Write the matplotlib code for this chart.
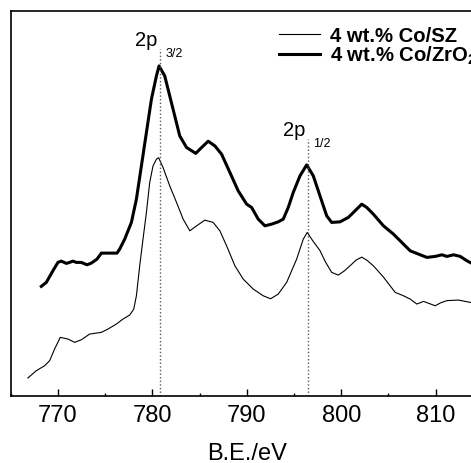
import numpy as np
import matplotlib
matplotlib.use("Agg")
import matplotlib.pyplot as plt
from matplotlib.ticker import MultipleLocator

plt.rcParams['font.family'] = ['Liberation Sans', 'DejaVu Sans']
plt.rcParams['mathtext.default'] = 'regular'

# Co 2p XPS spectra (x in eV, y in arbitrary intensity)
be_zro2 = [768.24, 768.77, 769.47, 770.00, 770.36, 770.89, 771.24, 771.59, 771.95, 772.48,
           773.08, 773.54, 774.14, 774.60, 775.48, 776.26, 776.54, 777.07, 777.78, 778.31,
           778.84, 779.37, 779.90, 780.43, 780.71, 781.31, 781.84, 782.37, 782.90, 783.62,
           784.60, 785.03, 785.91, 786.62, 787.33, 788.21, 789.09, 789.98, 790.51, 791.21,
           791.92, 792.63, 793.33, 793.86, 794.39, 794.92, 795.63, 796.34, 797.04, 797.75,
           798.46, 798.99, 799.87, 800.75, 801.46, 802.17, 802.70, 803.40, 804.47, 805.53,
           806.24, 807.30, 808.18, 809.07, 809.95, 810.66, 811.19, 811.89, 812.60, 813.31,
           813.77, 815.00]
int_zro2 = [109.4, 113.4, 125.0, 133.4, 134.7, 132.4, 133.4, 134.7, 133.4, 133.4,
            131.0, 132.7, 136.7, 142.7, 142.7, 142.7, 146.7, 156.7, 173.4, 196.7,
            230.0, 263.4, 296.7, 320.0, 330.0, 320.0, 300.0, 280.0, 260.0, 248.4,
            242.5, 246.7, 254.7, 250.0, 241.7, 223.4, 205.0, 191.7, 188.4, 176.7,
            170.0, 171.7, 174.0, 176.7, 188.4, 203.4, 220.0, 231.0, 220.0, 200.0,
            180.0, 173.4, 174.0, 178.4, 185.0, 191.7, 188.4, 181.7, 170.0, 161.7,
            155.0, 145.0, 141.7, 138.4, 139.4, 141.0, 139.4, 141.0, 139.4, 135.0,
            132.7, 129.0]

be_sz = [766.82, 767.71, 768.59, 769.12, 769.65, 770.25, 771.06, 771.77, 772.48, 773.36,
         774.60, 775.30, 776.19, 776.89, 777.60, 778.03, 778.31, 778.66, 779.01, 779.37,
         779.72, 780.07, 780.43, 780.66, 781.13, 781.84, 782.56, 783.26, 783.97, 784.68,
         785.56, 786.44, 787.15, 787.86, 788.74, 789.62, 790.68, 791.74, 792.52, 793.33,
         794.22, 795.28, 795.98, 796.40, 797.01, 797.75, 798.28, 798.99, 799.69, 800.30,
         800.93, 801.57, 802.17, 802.70, 803.40, 804.47, 805.71, 806.59, 807.30, 808.01,
         808.71, 809.95, 810.58, 811.22, 812.42, 813.66, 814.93]
int_sz = [17.7, 25.0, 30.0, 35.0, 46.7, 58.4, 56.7, 53.4, 56.0, 61.7,
          63.4, 66.7, 71.7, 76.7, 80.7, 86.7, 100.0, 130.0, 156.7, 183.4,
          213.4, 230.0, 236.7, 238.2, 228.4, 210.0, 193.4, 176.7, 165.0, 170.0,
          175.7, 173.4, 165.0, 150.0, 130.0, 116.7, 106.7, 100.0, 97.0, 101.7,
          113.4, 136.7, 156.7, 163.4, 154.7, 145.2, 134.7, 123.4, 120.7, 124.7,
          130.0, 135.7, 138.7, 135.7, 130.0, 118.7, 103.4, 100.0, 96.7, 91.7,
          94.4, 90.0, 93.2, 95.2, 95.7, 93.4, 92.7]

peak_pos = [780.8, 796.45]
peak_top = [346.7, 256.7]
peak_main = ["2p", "2p"]
peak_sub = ["3/2", "1/2"]
label_sz = "4 wt.% Co/SZ"
label_zro2 = "4 wt.% Co/ZrO$_2$"

fig = plt.figure(figsize=(4.71, 4.64), dpi=100)
ax = fig.add_axes([10.7 / 471, 1 - 396.7 / 464, 472.2 / 471, 384.7 / 464])

ax.plot(be_sz, int_sz, color='black', lw=0.8, label=label_sz)
ax.plot(be_zro2, int_zro2, color='black', lw=2.2, label=label_zro2)

for x, top, m, s in zip(peak_pos, peak_top, peak_main, peak_sub):
    ax.plot([x, x], [0, top], color='0.35', lw=1.0, linestyle=(0, (1, 1.6)))
    ax.text(x - 0.3, top + 4.3, m, fontsize=14.5, ha='right', va='baseline')
    ax.text(x + 0.6, top - 7.0, s, fontsize=9, ha='left', va='baseline')

ax.set_xlim(765, 815)
ax.set_ylim(0, 385)
ax.xaxis.set_major_locator(MultipleLocator(10))
ax.xaxis.set_minor_locator(MultipleLocator(5))
ax.tick_params(axis='x', which='major', direction='in', length=5, width=1.0,
               labelsize=17, pad=6)
ax.tick_params(axis='x', which='minor', direction='in', length=2.5, width=1.0)
ax.set_yticks([])
for sp in ax.spines.values():
    sp.set_linewidth(1.2)
ax.set_xlabel("B.E./eV", fontsize=17, labelpad=11.5)

ax.legend(loc='upper left', bbox_to_anchor=(279 / 471, 1 - 27 / 464),
          bbox_transform=fig.transFigure, frameon=False, borderpad=0,
          borderaxespad=0, labelspacing=-0.05, handlelength=2.0, handletextpad=0.5,
          prop={'size': 14.6, 'weight': 'bold'})

fig.savefig("out.png", dpi=100)
